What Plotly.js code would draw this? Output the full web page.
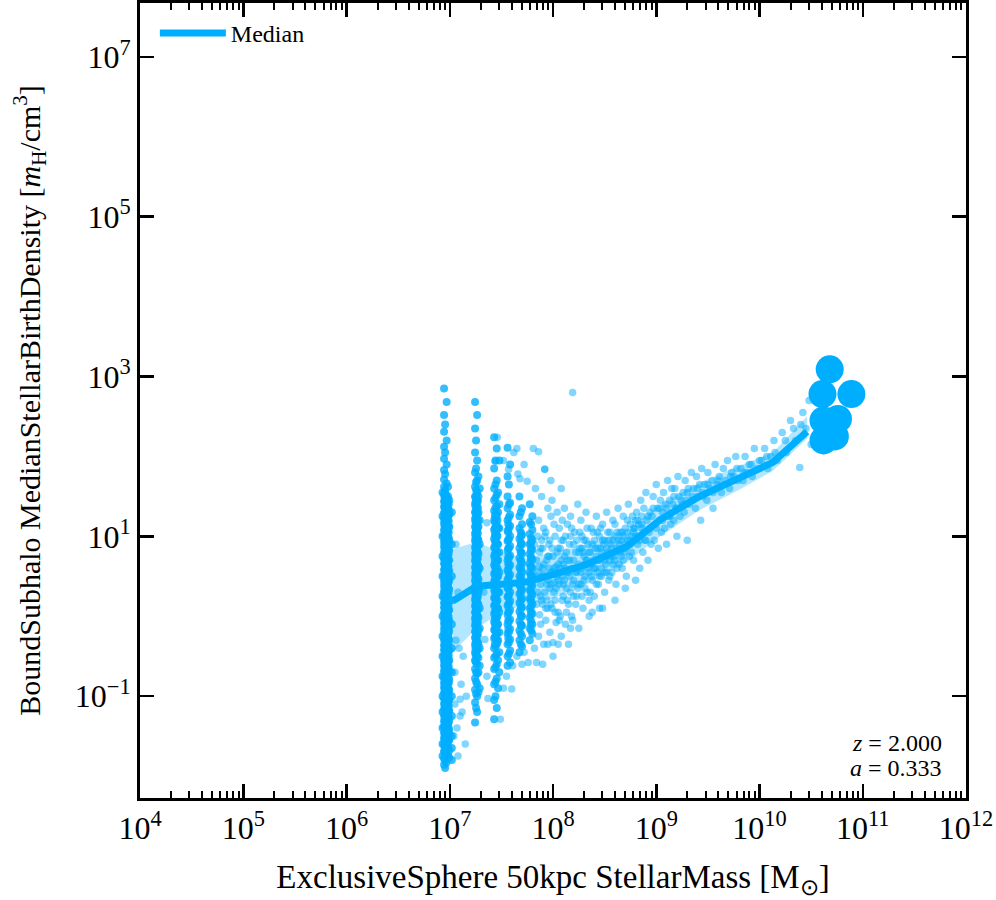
<!DOCTYPE html>
<html><head><meta charset="utf-8">
<script src="https://cdn.plot.ly/plotly-3.0.1.min.js"></script>
<style>html,body{margin:0;padding:0;background:#fff}</style>
</head><body><div id="chart" style="width:996px;height:900px"></div>
<script>
// All values are log10 of the plotted quantities.
// Discrete-mass stripes: lane x positions and the y values in each lane
const laneX = [6.945, 6.97, 6.995, 7.02, 6.955, 6.983, 6.93, 6.96, 6.977, 6.95, 6.965, 6.99,
  7.245, 7.265, 7.29, 7.255, 7.278, 7.26, 7.25, 7.272,
  7.43, 7.455, 7.48, 7.443, 7.468, 7.45, 7.437, 7.462,
  7.56, 7.585, 7.573, 7.567,
  7.675, 7.70, 7.688, 7.69,
  7.775, 7.80, 7.788, 7.785];
const laneY = [
  [2.85,2.52,2.31,2.12,1.97,1.83,1.71,1.62,1.52,1.44,1.37,1.29,1.22,1.16,1.08,1.01,0.93,0.87,0.79,0.72,0.66,0.58,0.51,0.44,0.38,0.31,0.24,0.17,0.11,0.04,-0.03,-0.09,-0.16,-0.22,-0.29,-0.36,-0.42,-0.49,-0.56,-0.62,-0.69,-0.76,-0.83,-0.89,-0.96,-1.03,-1.1,-1.17,-1.24,-1.31,-1.38,-1.46,-1.53,-1.61,-1.69,-1.78,-1.86],
  [2.68,2.2,1.9,1.66,1.48,1.4,1.33,1.25,1.18,1.12,1.04,0.97,0.9,0.83,0.76,0.69,0.62,0.55,0.48,0.41,0.35,0.28,0.21,0.14,0.07,0.01,-0.06,-0.13,-0.19,-0.26,-0.33,-0.39,-0.46,-0.53,-0.59,-0.66,-0.73,-0.8,-0.86,-0.93,-1.0,-1.07,-1.14,-1.21,-1.28,-1.35,-1.42,-1.5,-1.58,-1.66,-1.74,-1.83],
  [1.45,1.28,1.12,0.95,0.82,0.7,0.57,0.45,0.33,0.2,0.08,-0.05,-0.18,-0.3,-0.43,-0.55,-0.68,-0.8,-0.93,-1.05,-1.18,-1.3,-1.43,-1.55,-1.68,-1.77],
  [1.3,0.9,0.5,0.2,-0.1,-0.4,-0.7,-1.0,-1.25,-1.5,-1.65,-1.8],
  [2.4,2.05,1.78,1.58,1.47,1.41,1.34,1.27,1.2,1.14,1.06,0.99,0.92,0.85,0.78,0.71,0.64,0.57,0.5,0.43,0.36,0.29,0.22,0.15,0.08,0.02,-0.05,-0.12,-0.18,-0.25,-0.31,-0.38,-0.45,-0.51,-0.58,-0.65,-0.71,-0.78,-0.85,-0.91,-0.98,-1.05,-1.12,-1.19,-1.26,-1.33,-1.4,-1.48,-1.56,-1.64,-1.72,-1.81,-1.9],
  [1.62,1.5,1.42,1.35,1.27,1.2,1.13,1.06,0.99,0.92,0.84,0.77,0.7,0.63,0.56,0.49,0.42,0.36,0.29,0.22,0.16,0.09,0.03,-0.04,-0.11,-0.17,-0.24,-0.3,-0.37,-0.44,-0.5,-0.57,-0.64,-0.7,-0.77,-0.84,-0.91,-0.98,-1.05,-1.12,-1.19,-1.26,-1.34,-1.41,-1.49,-1.57,-1.65,-1.73],
  [1.55,1.25,1.0,0.75,0.5,0.25,0.0,-0.25,-0.5,-0.75,-1.0,-1.2,-1.4,-1.6,-1.75],
  [1.5,1.45,1.39,1.33,1.28,1.22,1.17,1.11,1.05,1.0,0.94,0.89,0.83,0.77,0.72,0.66,0.61,0.55,0.49,0.44,0.38,0.33,0.27,0.21,0.16,0.1,0.05,-0.01,-0.07,-0.12,-0.18,-0.23,-0.29,-0.35,-0.4,-0.46,-0.51,-0.57,-0.63,-0.68,-0.74,-0.79,-0.85,-0.91,-0.96,-1.02,-1.07,-1.13,-1.19,-1.24,-1.3,-1.35,-1.41,-1.47,-1.52,-1.58],
  [1.47,1.42,1.36,1.3,1.25,1.19,1.14,1.08,1.02,0.97,0.91,0.86,0.8,0.74,0.69,0.63,0.58,0.52,0.46,0.41,0.35,0.3,0.24,0.18,0.13,0.07,0.02,-0.04,-0.1,-0.15,-0.21,-0.26,-0.32,-0.38,-0.43,-0.49,-0.54,-0.6,-0.66,-0.71,-0.77,-0.82,-0.88,-0.94,-0.99,-1.05,-1.1,-1.16,-1.22,-1.27,-1.33,-1.38,-1.44,-1.5,-1.55,-1.62],
  [1.55,1.49,1.43,1.37,1.31,1.25,1.19,1.13,1.07,1.01,0.95,0.89,0.83,0.77,0.71,0.65,0.59,0.53,0.47,0.41,0.35,0.29,0.23,0.17,0.11,0.05,-0.01,-0.07,-0.13,-0.19,-0.25,-0.31,-0.37,-0.43,-0.49,-0.55,-0.61,-0.67,-0.73,-0.79,-0.85,-0.91,-0.97,-1.03,-1.09,-1.15,-1.21,-1.27,-1.33,-1.39,-1.45,-1.51,-1.57,-1.63,-1.7],
  [1.52,1.46,1.4,1.34,1.28,1.22,1.16,1.1,1.04,0.98,0.92,0.86,0.8,0.74,0.68,0.62,0.56,0.5,0.44,0.38,0.32,0.26,0.2,0.14,0.08,0.02,-0.04,-0.1,-0.16,-0.22,-0.28,-0.34,-0.4,-0.46,-0.52,-0.58,-0.64,-0.7,-0.76,-0.82,-0.88,-0.94,-1.0,-1.06,-1.12,-1.18,-1.24,-1.3,-1.36,-1.42,-1.48,-1.54,-1.6,-1.67],
  [1.4,1.33,1.26,1.19,1.12,1.05,0.98,0.91,0.84,0.77,0.7,0.63,0.56,0.49,0.42,0.35,0.28,0.21,0.14,0.07,0.0,-0.07,-0.14,-0.21,-0.28,-0.35,-0.42,-0.49,-0.56,-0.63,-0.7,-0.77,-0.84,-0.91,-0.98,-1.05,-1.12,-1.19,-1.26,-1.33,-1.4,-1.47,-1.55],
  [2.68,2.35,2.05,1.8,1.62,1.5,1.4,1.3,1.21,1.12,1.03,0.95,0.86,0.78,0.7,0.61,0.53,0.45,0.37,0.29,0.21,0.13,0.05,-0.03,-0.11,-0.19,-0.27,-0.36,-0.45,-0.55,-0.66,-0.78,-0.92,-1.08,-1.33],
  [2.52,1.95,1.7,1.55,1.45,1.35,1.25,1.16,1.07,0.99,0.9,0.82,0.74,0.66,0.57,0.49,0.41,0.33,0.25,0.17,0.09,0.01,-0.07,-0.15,-0.23,-0.32,-0.41,-0.5,-0.6,-0.72,-0.85,-1.0,-1.2],
  [1.6,1.2,0.9,0.6,0.35,0.1,-0.15,-0.4,-0.62,-0.9],
  [2.2,1.85,1.68,1.58,1.48,1.38,1.29,1.2,1.11,1.02,0.94,0.85,0.77,0.69,0.6,0.52,0.44,0.36,0.28,0.2,0.12,0.04,-0.04,-0.12,-0.2,-0.29,-0.38,-0.47,-0.58,-0.7,-0.82,-0.97,-1.15],
  [1.75,1.5,1.3,1.12,0.95,0.78,0.62,0.46,0.3,0.14,-0.02,-0.18,-0.35,-0.52,-0.7,-0.95],
  [1.52,1.46,1.4,1.33,1.27,1.21,1.15,1.08,1.02,0.96,0.9,0.83,0.77,0.71,0.65,0.58,0.52,0.46,0.4,0.33,0.27,0.21,0.15,0.08,0.02,-0.04,-0.1,-0.17,-0.23,-0.29,-0.36,-0.43,-0.5],
  [1.49,1.43,1.37,1.3,1.24,1.18,1.12,1.05,0.99,0.93,0.87,0.8,0.74,0.68,0.62,0.55,0.49,0.43,0.37,0.3,0.24,0.18,0.12,0.05,-0.01,-0.07,-0.13,-0.2,-0.26,-0.33,-0.4,-0.48,-0.56],
  [1.44,1.36,1.28,1.2,1.12,1.04,0.96,0.88,0.8,0.72,0.64,0.56,0.48,0.4,0.32,0.24,0.16,0.08,0.0,-0.08,-0.16,-0.24,-0.33,-0.42],
  [2.24,1.85,1.6,1.45,1.32,1.2,1.08,0.97,0.86,0.75,0.64,0.53,0.43,0.33,0.23,0.13,0.03,-0.07,-0.17,-0.28,-0.4,-0.52,-0.66,-0.85,-1.05,-1.29],
  [2.1,1.7,1.52,1.38,1.26,1.14,1.02,0.91,0.8,0.69,0.58,0.48,0.38,0.28,0.18,0.08,-0.02,-0.12,-0.23,-0.35,-0.47,-0.6,-0.78,-1.15],
  [1.95,1.4,1.1,0.8,0.55,0.3,0.05,-0.2,-0.45,-0.7],
  [1.95,1.65,1.48,1.36,1.23,1.11,1.0,0.89,0.78,0.67,0.56,0.45,0.35,0.25,0.15,0.05,-0.05,-0.15,-0.26,-0.38,-0.5,-0.64,-0.82,-1.0],
  [1.55,1.3,1.1,0.9,0.7,0.5,0.3,0.1,-0.1,-0.3,-0.55,-0.9],
  [1.3,1.22,1.14,1.06,0.98,0.9,0.82,0.74,0.66,0.58,0.5,0.42,0.34,0.26,0.18,0.1,0.02,-0.06,-0.14,-0.22,-0.3],
  [1.26,1.18,1.1,1.02,0.94,0.86,0.78,0.7,0.62,0.54,0.46,0.38,0.3,0.22,0.14,0.06,-0.02,-0.1,-0.18,-0.26,-0.35],
  [1.2,1.1,1.0,0.9,0.8,0.7,0.6,0.5,0.4,0.3,0.2,0.1,0.0,-0.1,-0.2,-0.32],
  [2.11,1.75,1.5,1.35,1.2,1.07,0.94,0.82,0.7,0.58,0.46,0.35,0.24,0.13,0.02,-0.1,-0.22,-0.35,-0.5,-0.62],
  [1.9,1.42,1.27,1.13,1.0,0.88,0.76,0.64,0.52,0.41,0.3,0.19,0.08,-0.04,-0.16,-0.29,-0.43,-0.58],
  [1.65,1.4,1.24,1.1,0.97,0.85,0.73,0.61,0.49,0.38,0.27,0.16,0.05,-0.07,-0.2,-0.33,-0.47],
  [1.15,1.05,0.95,0.85,0.75,0.65,0.55,0.45,0.35,0.25,0.15,0.05,-0.05,-0.16,-0.28],
  [1.5,1.25,1.1,0.97,0.85,0.73,0.61,0.5,0.39,0.28,0.17,0.06,-0.06,-0.18,-0.3,-0.45],
  [1.35,1.15,1.02,0.9,0.78,0.66,0.55,0.44,0.33,0.22,0.11,0.0,-0.12,-0.25,-0.38],
  [1.3,1.05,0.92,0.8,0.68,0.57,0.46,0.35,0.24,0.13,0.02,-0.1,-0.22,-0.35],
  [1.0,0.9,0.8,0.7,0.6,0.5,0.4,0.3,0.2,0.1,0.0,-0.12],
  [1.4,1.18,1.03,0.9,0.78,0.66,0.55,0.44,0.33,0.22,0.1,-0.02,-0.15,-0.3],
  [1.25,1.08,0.95,0.83,0.71,0.6,0.49,0.38,0.27,0.15,0.03,-0.1,-0.22],
  [1.15,0.98,0.86,0.74,0.62,0.51,0.4,0.29,0.18,0.06,-0.06,-0.18],
  [0.92,0.82,0.72,0.62,0.52,0.42,0.32,0.22,0.12,0.02,-0.1]
];
// Remaining scattered galaxies
const cloudX = [7.1,7.15,7.08,7.05,7.12,7.09,7.36,7.34,7.36,7.33,7.37,7.44,7.57,7.66,7.61,7.7,7.76,7.6,7.49,7.84,7.95,7.46,7.65,7.86,7.92,7.75,
  7.86,7.87,7.88,7.88,7.89,7.9,7.9,7.91,7.92,7.92,7.93,7.93,7.94,7.95,7.95,7.86,7.89,7.91,7.94,7.87,
  7.96,7.97,7.97,7.98,7.98,7.99,8.0,8.0,8.01,8.02,8.02,8.03,8.03,8.04,8.04,8.05,7.96,8.01,7.99,8.05,
  8.06,8.06,8.07,8.08,8.08,8.09,8.1,8.1,8.11,8.12,8.12,8.13,8.13,8.14,8.15,8.15,8.07,8.11,
  8.16,8.17,8.17,8.18,8.19,8.19,8.2,8.2,8.21,8.22,8.22,8.23,8.24,8.24,8.25,8.18,
  8.26,8.27,8.27,8.28,8.29,8.3,8.3,8.31,8.32,8.33,8.33,8.34,8.35,8.35,8.28,8.31,
  8.36,8.37,8.38,8.39,8.4,8.4,8.41,8.42,8.43,8.44,8.45,8.45,8.38,8.43,
  8.46,8.47,8.48,8.49,8.5,8.5,8.51,8.52,8.53,8.54,8.55,8.55,8.48,
  8.56,8.57,8.58,8.59,8.6,8.61,8.62,8.63,8.64,8.65,8.6,
  8.66,8.67,8.68,8.69,8.7,8.71,8.72,8.73,8.74,8.75,8.7,
  8.76,8.77,8.78,8.79,8.8,8.81,8.82,8.83,8.84,8.85,
  8.86,8.87,8.88,8.89,8.9,8.91,8.92,8.93,8.94,8.95,
  8.96,8.97,8.98,8.99,9.0,9.01,9.02,9.03,9.04,9.05,
  9.06,9.07,9.08,9.09,9.1,9.11,9.12,9.13,9.14,9.15,
  9.16,9.17,9.18,9.19,9.2,9.21,9.22,9.23,9.24,
  9.26,9.27,9.28,9.29,9.3,9.31,9.32,9.34,9.35,
  9.36,9.38,9.39,9.4,9.42,9.43,9.44,9.45,
  9.47,9.49,9.5,9.52,9.54,9.55,9.57,9.59,
  9.61,9.63,9.65,9.67,9.69,9.71,9.73,9.75,9.77,9.79,
  9.82,9.84,9.86,9.88,9.9,9.93,9.95,9.98,
  10.02,10.05,10.08,10.11,10.14,10.17,
  10.22,10.26,10.3,10.35,10.39,10.42,10.45,10.48,10.5];
const cloudY = [-1.04,-1.6,-1.75,-0.7,-1.2,-0.4,1.17,-0.29,-0.75,0.3,-1.03,1.94,1.84,1.78,-0.62,-0.6,-0.58,-0.91,-1.29,-0.58,-0.35,2.24,2.1,2.06,1.84,1.69,
  1.2,0.8,0.4,-0.1,0.95,0.15,0.6,-0.35,1.84,0.3,1.05,-0.05,0.7,0.45,1.35,-0.25,0.5,1.1,0.2,0.02,
  0.9,0.35,-0.2,1.25,0.55,0.1,0.75,-0.33,0.42,1.0,0.2,0.62,-0.08,1.3,0.5,0.85,0.6,0.3,1.45,0.05,
  0.4,1.1,0.0,0.7,-0.25,0.5,0.95,0.25,1.35,0.6,-0.1,0.8,0.35,1.15,0.15,0.55,0.85,0.45,
  0.9,0.3,1.25,0.6,2.8,-0.05,0.7,0.45,1.05,0.15,0.8,0.55,1.4,0.35,0.65,0.0,
  0.85,0.4,1.2,0.6,0.1,0.75,0.95,0.5,1.3,0.3,0.7,0.9,0.55,0.2,1.0,0.65,
  0.8,1.1,0.45,0.7,0.95,0.25,0.6,1.25,0.85,0.4,0.7,1.0,0.05,0.55,
  0.85,0.5,1.15,0.75,0.3,0.95,0.65,1.3,0.8,0.45,1.05,0.7,0.1,
  0.9,0.55,1.2,0.75,1.0,0.4,0.85,1.35,0.65,1.05,0.2,
  0.95,0.6,1.25,0.8,1.1,0.5,0.95,1.4,0.75,1.15,0.35,
  1.0,1.25,0.7,1.1,0.45,1.3,0.9,1.15,0.6,1.45,
  1.1,0.8,1.35,0.95,1.55,1.2,0.7,1.05,1.3,0.9,
  1.25,1.5,0.95,1.15,1.65,1.35,0.85,1.2,1.45,1.05,
  1.3,1.55,1.1,1.4,0.9,1.7,1.25,1.45,1.15,1.6,
  1.4,1.2,1.6,1.35,1.0,1.75,1.5,1.25,1.45,
  1.55,1.3,1.7,1.45,0.95,1.6,1.4,1.8,1.5,
  1.6,1.35,1.75,1.5,1.65,1.2,1.85,1.55,
  1.65,1.45,1.8,1.6,1.7,1.35,1.9,1.65,
  1.75,1.55,1.85,1.7,1.95,1.6,1.8,1.75,2.0,1.7,
  1.85,1.7,2.0,1.8,1.9,1.75,2.1,1.85,
  1.95,2.1,1.85,2.0,2.2,1.95,
  2.3,2.05,2.45,2.2,1.86,2.55,2.35,2.7,2.15];
const cloudX2 = [7.82,7.83,7.84,7.85,7.87,7.88,7.9,7.92,7.93,7.95,7.97,7.98,8.0,8.01,8.03,8.05,8.06,8.08,8.09,8.1,8.12,8.13,8.14,8.16,8.17,8.18,8.2,8.21,8.23,8.25,
  8.26,8.28,8.29,8.31,8.32,8.34,8.36,8.37,8.39,8.41,8.42,8.44,8.46,8.47,8.49,8.5,8.52,8.53,8.55,8.57,8.58,8.6,8.62,8.63,8.65,8.67,8.68,8.7,8.72,8.74,
  8.76,8.78,8.8,8.82,8.84,8.86,8.88,8.9,8.92,8.94,8.97,9.0,9.03,9.06,9.1,9.13,9.17,9.2,9.25,9.3,9.35,9.4,9.45,9.5,9.55,9.6,9.66,9.72,9.78,9.85,9.92,10.0,10.07,10.15,10.25,10.33,10.4,
  7.52,7.62,7.68,7.72,7.81,7.83,7.89,7.98,8.08,
  7.52,7.55,7.65,7.72,7.82,7.9,8.0,8.05,8.15,8.25,8.35,8.45,
  7.05,7.07,7.06,7.11,7.08,7.13,7.1,7.16,7.04,7.06];
const cloudY2 = [0.9,0.5,0.15,1.0,0.62,0.25,0.85,0.52,0.1,0.75,0.95,0.15,0.55,1.15,0.35,0.65,-0.05,0.95,0.2,0.65,1.0,0.05,0.7,0.5,-0.15,1.1,0.25,0.6,0.95,0.4,
  1.05,0.25,0.8,0.35,0.95,0.6,0.3,0.65,1.05,0.85,0.4,0.7,1.1,0.6,0.9,0.55,0.85,1.05,0.5,0.85,0.65,1.15,0.6,0.95,0.8,1.05,0.7,0.9,1.2,0.95,
  0.8,1.1,1.0,1.2,0.95,1.25,1.05,0.95,1.25,1.1,1.35,1.1,1.35,1.2,1.35,1.25,1.5,1.35,1.4,1.55,1.45,1.6,1.5,1.65,1.55,1.7,1.65,1.75,1.85,1.8,1.9,1.95,2.0,2.05,2.2,2.35,2.4,
  1.95,2.05,1.72,1.9,2.1,1.6,1.5,1.7,1.6,
  -0.9,-0.75,-0.5,-0.45,-0.4,-0.6,-0.5,-0.35,-0.35,-0.15,0.0,0.1,
  -1.1,-1.4,-0.3,-0.85,0.3,-0.5,-1.25,-1.0,-1.5,0.9];
const cloudX3 = [7.84,7.85,7.86,7.88,7.89,7.91,7.92,7.94,7.95,7.96,7.98,7.99,8.01,8.02,8.04,8.05,8.07,8.09,8.1,8.11,8.13,8.14,8.16,8.17,8.19,8.2,8.22,8.23,8.25,8.27,
  8.28,8.3,8.32,8.33,8.35,8.37,8.38,8.4,8.42,8.43,8.45,8.47,8.48,8.5,8.52,8.54,8.56,8.58,8.6,8.62,8.64,8.66,8.68,8.7,8.72,8.75,8.78,8.8,8.83,8.86];
const cloudY3 = [0.7,0.3,0.55,0.85,0.2,0.65,1.0,0.4,0.1,0.75,0.4,0.85,0.6,0.05,0.8,0.45,0.6,1.2,0.4,0.75,0.55,0.2,0.7,1.0,0.4,0.9,0.55,0.25,0.8,0.55,
  0.85,0.45,0.7,1.1,0.8,0.5,0.9,0.6,0.75,1.05,0.5,0.8,0.95,0.7,0.55,0.95,0.75,0.95,0.7,1.05,0.9,0.75,1.0,0.85,1.05,0.9,1.05,1.2,1.0,1.15];
// Median relation and its spread band
const medX  = [7.03, 7.26, 7.5, 7.75, 8.0, 8.33, 8.72, 9.04, 9.42, 9.8, 10.13, 10.46];
const medY  = [0.19, 0.375, 0.4, 0.43, 0.52, 0.65, 0.875, 1.21, 1.5, 1.72, 1.925, 2.31];
const bandLo = [-0.45, -0.15, 0.05, 0.15, 0.22, 0.4, 0.68, 1.0, 1.33, 1.58, 1.82, 2.22];
const bandHi = [0.84, 0.93, 0.8, 0.72, 0.8, 0.9, 1.08, 1.4, 1.67, 1.88, 2.05, 2.5];
// Most massive individual galaxies
const bigX = [10.68, 10.61, 10.89, 10.62, 10.76, 10.62, 10.73];
const bigY = [3.09, 2.78, 2.78, 2.45, 2.47, 2.2, 2.25];

const xTickVals = [4,5,6,7,8,9,10,11,12];
const xTickText = ['10<sup>4</sup>','10<sup>5</sup>','10<sup>6</sup>','10<sup>7</sup>','10<sup>8</sup>','10<sup>9</sup>','10<sup>10</sup>','10<sup>11</sup>','10<sup>12</sup>'];
const yTickVals = [-1,1,3,5,7];
const yTickText = ['10<sup>\u22121</sup>','10<sup>1</sup>','10<sup>3</sup>','10<sup>5</sup>','10<sup>7</sup>'];

const p10 = v => Math.pow(10, v);
const C = 'rgb(0,174,255)';

let lx = [], ly = [];
laneY.forEach((ys, i) => ys.forEach(y => { lx.push(laneX[i]); ly.push(y); }));
const cx = cloudX.concat(cloudX2, cloudX3), cy = cloudY.concat(cloudY2, cloudY3);

let minorVals = [];
for (let k = 4; k < 12; k++) for (let m = 2; m <= 9; m++) minorVals.push(m * p10(k));

const traces = [
  {x: medX.map(p10), y: bandLo.map(p10), mode: 'lines', line: {width: 0, color: C}, showlegend: false, hoverinfo: 'skip'},
  {x: medX.map(p10), y: bandHi.map(p10), mode: 'lines', line: {width: 0, color: C}, fill: 'tonexty', fillcolor: 'rgba(0,174,255,0.3)', showlegend: false, hoverinfo: 'skip'},
  {x: lx.map(p10), y: ly.map(p10), mode: 'markers', marker: {size: 8, color: 'rgba(0,174,255,0.8)', line: {width: 0}}, showlegend: false},
  {x: cx.map(p10), y: cy.map(p10), mode: 'markers', marker: {size: 7.5, color: 'rgba(0,174,255,0.5)', line: {width: 0}}, showlegend: false},
  {x: medX.map(p10), y: medY.map(p10), mode: 'lines', line: {width: 7, color: C}, name: 'Median'},
  {x: bigX.map(p10), y: bigY.map(p10), mode: 'markers', marker: {size: 28, color: C, line: {width: 0}}, showlegend: false}
];

const FAM = "'Liberation Serif', 'Times New Roman', serif";
const font = {family: FAM, color: '#000'};
const axisCommon = {
  type: 'log', showgrid: false, zeroline: false, showline: true, linecolor: '#000', linewidth: 3,
  mirror: 'ticks', ticks: 'inside', ticklen: 14, tickwidth: 2.5, tickcolor: '#000',
  tickfont: {family: FAM, color: '#000', size: 32}
};
const layout = {
  width: 996, height: 900,
  margin: {l: 140, r: 30, t: 3, b: 102},
  paper_bgcolor: '#fff', plot_bgcolor: '#fff',
  font: font,
  showlegend: true,
  legend: {x: 0.018, y: 0.99, xanchor: 'left', yanchor: 'top', itemwidth: 66, font: {family: FAM, color: '#000', size: 24}, bgcolor: 'rgba(0,0,0,0)'},
  xaxis: Object.assign({}, axisCommon, {
    range: [4, 12], tickvals: xTickVals.map(p10), ticktext: xTickText,
    minor: {tickvals: minorVals, ticks: 'inside', ticklen: 7, tickwidth: 2, tickcolor: '#000'},
    title: {text: 'ExclusiveSphere 50kpc StellarMass [M<sub>\u2299</sub>]', font: {family: FAM, color: '#000', size: 33}, standoff: 20}
  }),
  yaxis: Object.assign({}, axisCommon, {
    range: [-2.275, 7.675], tickvals: yTickVals.map(p10), ticktext: yTickText,
    title: {text: 'BoundSubhalo MedianStellarBirthDensity [<i>m</i><sub>H</sub>/cm<sup>3</sup>]', font: {family: FAM, color: '#000', size: 30}, standoff: 26}
  }),
  annotations: [
    {xref: 'paper', yref: 'paper', x: 0.973, y: 0.069, xanchor: 'right', yanchor: 'middle', showarrow: false, text: '<i>z</i> = 2.000', font: {family: FAM, color: '#000', size: 24}},
    {xref: 'paper', yref: 'paper', x: 0.973, y: 0.038, xanchor: 'right', yanchor: 'middle', showarrow: false, text: '<i>a</i> = 0.333', font: {family: FAM, color: '#000', size: 24}}
  ]
};
Plotly.newPlot('chart', traces, layout, {displayModeBar: false, staticPlot: true});
</script></body></html>
